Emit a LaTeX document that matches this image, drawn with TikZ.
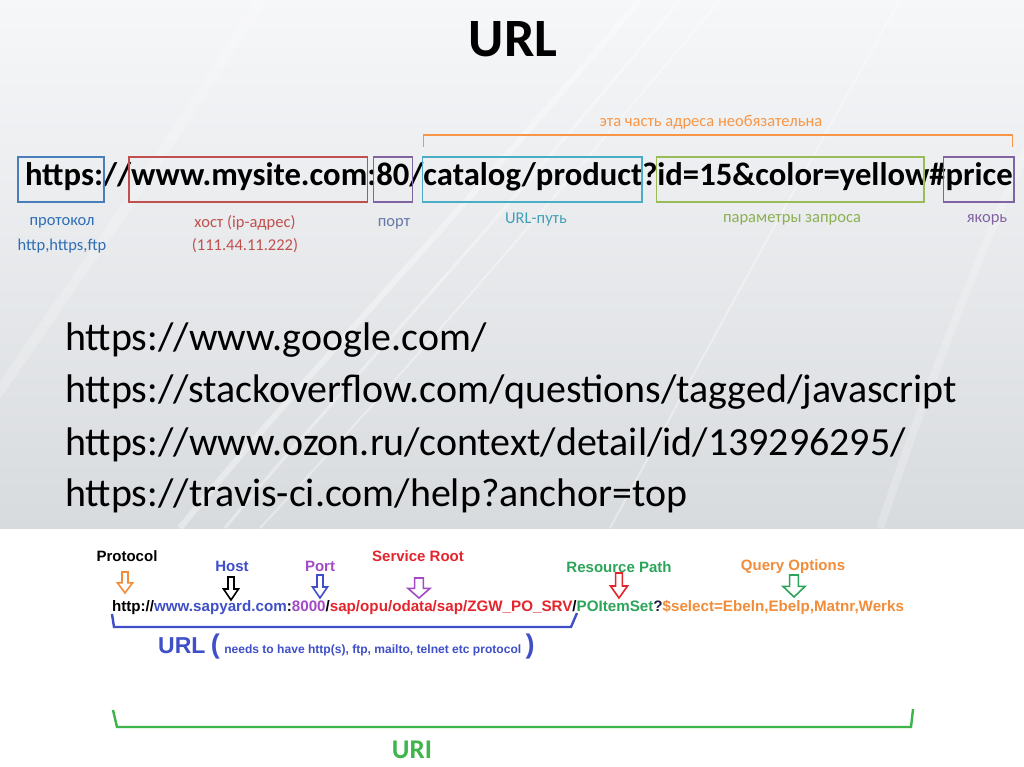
\documentclass[tikz,border=0pt]{standalone}
\usepackage{fontspec}
\setmainfont{Carlito}
\newfontfamily\arialf{Liberation Sans}
\usetikzlibrary{calc}
\definecolor{bgtop}{HTML}{F6F7F9}
\definecolor{bgbot}{HTML}{D8DBDE}
\definecolor{cproto}{HTML}{4A7EBB}
\definecolor{lproto}{HTML}{2F6EB5}
\definecolor{chost}{HTML}{C0504D}
\definecolor{cport}{HTML}{8064A2}
\definecolor{lport}{HTML}{6578A6}
\definecolor{cpath}{HTML}{4BACC6}
\definecolor{lpath}{HTML}{40A0B8}
\definecolor{cparam}{HTML}{9BBB59}
\definecolor{lparam}{HTML}{8CB050}
\definecolor{corange}{HTML}{F79646}
\definecolor{sblue}{HTML}{3F4FC8}
\definecolor{spurple}{HTML}{A24BC4}
\definecolor{sred}{HTML}{E3262D}
\definecolor{sgreen}{HTML}{2CA55A}
\definecolor{sorange}{HTML}{F28C38}
\definecolor{snavy}{HTML}{1E1E3C}
\definecolor{bgreen}{HTML}{3DB54A}
\newlength\tmpw
\newcommand\fitfs[4]{\settowidth\tmpw{\fontsize{10}{12}\selectfont#2#3}\pgfmathsetmacro#1{10*#4/\tmpw}}
\newcommand\harrow[5]{%
  \draw[#5, line width=1.6pt, line join=miter, fill=white]
    ({#1-0.4*#4},{#2}) -- ({#1+0.4*#4},{#2}) -- ({#1+0.4*#4},{#3-0.48*(#3-#2)})
    -- ({#1+#4},{#3-0.48*(#3-#2)}) -- ({#1},{#3}) -- ({#1-#4},{#3-0.48*(#3-#2)})
    -- ({#1-0.4*#4},{#3-0.48*(#3-#2)}) -- cycle;}
\begin{document}%
\fitfs\fsA{\bfseries}{https://www.mysite.com:80/catalog/product?id=15\&color=yellow\#price}{987}%
\fitfs\fsB{}{https://stackoverflow.com/questions/tagged/javascript}{892}%
\fitfs\fsC{\arialf\bfseries}{http://www.sapyard.com:8000/sap/opu/odata/sap/ZGW\_PO\_SRV/POItemSet?\$select=Ebeln,Ebelp,Matnr,Werks}{792}%
\fitfs\fsD{\arialf\bfseries}{needs to have http(s), ftp, mailto, telnet etc protocol}{297}%
\begin{tikzpicture}[x=1pt,y=-1pt]
\tikzset{
  seg/.style={inner sep=0pt, outer sep=0pt, anchor=base west, font=\fontsize{\fsA}{\fsA}\bfseries\selectfont},
  ubox/.style={line width=1.6pt},
  lab/.style={inner sep=0pt, font=\fontsize{16.5}{18}\selectfont},
  mline/.style={inner sep=0pt, anchor=base west, font=\fontsize{\fsB}{\fsB}\selectfont},
  bseg/.style={inner sep=0pt, outer sep=0pt, anchor=base west, font=\fontsize{\fsC}{\fsC}\arialf\bfseries\selectfont},
  blab/.style={inner sep=0pt, font=\fontsize{15}{17}\arialf\bfseries\selectfont},
  streak/.style={white, line width=#1, opacity=0.35},
}
\useasboundingbox (0,0) rectangle (1024,767);
\fill[white] (0,0) rectangle (1024,767);
\shade[top color=bgtop, bottom color=bgbot] (0,0) rectangle (1024,528);
\begin{scope}
  \clip (0,0) rectangle (1024,528);
  \draw[streak=6pt] (180,528) .. controls (300,380) and (420,260) .. (640,0);
  \draw[streak=3pt] (225,528) .. controls (330,400) and (450,280) .. (680,0);
  \draw[streak=2pt] (260,528) .. controls (360,420) and (470,300) .. (720,0);
  \draw[streak=10pt, opacity=0.2] (-20,420) .. controls (60,300) and (150,180) .. (260,0);
  \draw[streak=2pt] (610,528) .. controls (680,400) and (760,250) .. (900,0);
  \draw[streak=8pt, opacity=0.2] (880,528) .. controls (930,380) and (980,250) .. (1040,120);
\end{scope}
% title
\node[anchor=base, inner sep=0pt, font=\fontsize{54}{54}\bfseries\selectfont] (title) at (513,57) {URL};
% line 1
\node[seg] (s1) at (25,186) {https:};
\node[seg] (s2) at (s1.base east) {//};
\node[seg] (s3) at (s2.base east) {www.mysite.com};
\node[seg] (s4) at (s3.base east) {:};
\node[seg] (s5) at (s4.base east) {80};
\node[seg] (s6) at (s5.base east) {/};
\node[seg] (s7) at (s6.base east) {catalog/product};
\node[seg] (s8) at (s7.base east) {?};
\node[seg] (s9) at (s8.base east) {id=15\&color=yellow};
\node[seg] (s10) at (s9.base east) {\#};
\node[seg] (s11) at (s10.base east) {price};
\coordinate (bt) at (0,157);
\coordinate (bb) at (0,202);
\draw[ubox, cproto] ($(s1.west|-bt)+(-7,0)$) rectangle ($(s1.east|-bb)+(1,0)$);
\draw[ubox, chost] ($(s3.west|-bt)+(-2,0)$) rectangle ($(s3.east|-bb)+(0,0)$);
\draw[ubox, cport] ($(s5.west|-bt)+(-3,0)$) rectangle ($(s5.east|-bb)+(3,0)$);
\draw[ubox, cpath] ($(s7.west|-bt)+(-1,0)$) rectangle ($(s7.east|-bb)+(0,0)$);
\draw[ubox, cparam] ($(s9.west|-bt)+(-1,0)$) rectangle ($(s9.east|-bb)+(-5,0)$);
\draw[ubox, cport] ($(s11.west|-bt)+(-2,0)$) rectangle ($(s11.east|-bb)+(1,0)$);
% optional bracket
\coordinate (brt) at (0,135);
\coordinate (brb) at (0,147);
\draw[corange, line width=1.3pt] ($(s7.west|-brb)$) |- ($(s11.east|-brt)$) -- ($(s11.east|-brb)$);
\node[lab, text=corange] (opt) at (711,122) {эта часть адреса необязательна};
% labels
\node[lab, text=lproto] (lp1) at (62,223) {протокол};
\node[lab, text=lproto] (lp2) at (62,246) {http,https,ftp};
\node[lab, text=chost] (lh1) at (245,223) {хост (ip-адрес)};
\node[lab, text=chost] (lh2) at (245,246) {(111.44.11.222)};
\node[lab, text=lport] (lpo) at (394,224) {порт};
\node[lab, text=lpath] (lpa) at (536,220) {URL-путь};
\node[lab, text=lparam] (lpr) at (792,220) {параметры запроса};
\node[lab, text=cport] (lan) at (987,220) {якорь};
% middle examples
\node[mline] (m1) at (65,350) {https://www.google.com/};
\node[mline] (m2) at (65,402) {https://stackoverflow.com/questions/tagged/javascript};
\node[mline] (m3) at (65,455) {https://www.ozon.ru/context/detail/id/139296295/};
\node[mline] (m4) at (65,506) {https://travis-ci.com/help?anchor=top};
% bottom labels
\node[blab, text=black] (bp) at (127,556) {Protocol};
\node[blab, text=sblue] (bh) at (232,566) {Host};
\node[blab, text=spurple] (bpo) at (320,566) {Port};
\node[blab, text=sred] (bs) at (418,556) {Service Root};
\node[blab, text=sgreen] (br) at (619,567) {Resource Path};
\node[blab, text=sorange] (bq) at (793,567) {Query Options};
% hollow arrows
\harrow{125}{572}{593}{7.5}{sorange}
\harrow{231}{577}{600}{7.5}{black}
\harrow{320}{575}{598}{7.5}{sblue}
\harrow{419}{578}{598}{11}{spurple}
\harrow{619}{573}{598}{8.5}{sred}
\harrow{794}{575}{597}{11}{sgreen}
% bottom URL
\node[bseg, text=black] (b1) at (112,611) {http://};
\node[bseg, text=sblue] (b2) at (b1.base east) {www.sapyard.com};
\node[bseg, text=black] (b3) at (b2.base east) {:};
\node[bseg, text=spurple] (b4) at (b3.base east) {8000};
\node[bseg, text=black] (b5) at (b4.base east) {/};
\node[bseg, text=sred] (b6) at (b5.base east) {sap/opu/odata/sap/ZGW\_PO\_SRV};
\node[bseg, text=black] (b7) at (b6.base east) {/};
\node[bseg, text=sgreen] (b8) at (b7.base east) {POItemSet};
\node[bseg, text=snavy] (b9) at (b8.base east) {?};
\node[bseg, text=sorange] (b10) at (b9.base east) {\$select=Ebeln,Ebelp,Matnr,Werks};
% URL bracket
\coordinate (ub1) at (112,614);
\coordinate (ub2) at (114,627);
\coordinate (ub3) at (571,627);
\coordinate (ub4) at (577,613);
\draw[sblue, line width=2.4pt, line join=miter] (ub1) -- (ub2) -- (ub3) -- (ub4);
\node[inner sep=0pt, anchor=base west, text=sblue, font=\fontsize{23}{23}\arialf\bfseries\selectfont] (u1) at (158,653) {URL};
\node[inner sep=0pt, anchor=base west, text=sblue, font=\fontsize{27}{27}\arialf\bfseries\selectfont] (u2) at ($(u1.base east)+(5,0)$) {(};
\node[inner sep=0pt, anchor=base west, text=sblue, font=\fontsize{\fsD}{\fsD}\arialf\bfseries\selectfont] (u3) at ($(u2.base east)+(4,0)$) {needs to have http(s), ftp, mailto, telnet etc protocol};
\node[inner sep=0pt, anchor=base west, text=sblue, font=\fontsize{27}{27}\arialf\bfseries\selectfont] (u4) at ($(u3.base east)+(4,0)$) {)};
% URI bracket
\coordinate (gb1) at (113,710);
\coordinate (gb2) at (117,727);
\coordinate (gb3) at (911,727);
\coordinate (gb4) at (913,709);
\draw[bgreen, line width=2.4pt, line join=miter] (gb1) -- (gb2) -- (gb3) -- (gb4);
\node[inner sep=0pt, text=bgreen, font=\fontsize{27}{27}\bfseries\selectfont] (uri) at (412,750) {URI};
\end{tikzpicture}
\end{document}
